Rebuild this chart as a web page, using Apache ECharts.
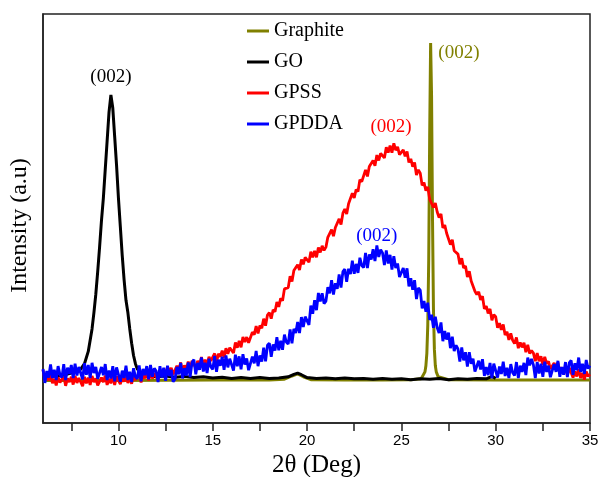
<!DOCTYPE html>
<html>
<head>
<meta charset="utf-8">
<script src="https://cdn.jsdelivr.net/npm/echarts@6/dist/echarts.min.js"></script>
<style>html,body{margin:0;padding:0;background:#fff}#chart{width:601px;height:477px}</style>
</head>
<body>
<div id="chart"></div>
<script>
// ---- data ----
const seriesNames = ['Graphite', 'GO', 'GPSS', 'GPDDA'];
const xTickLabels = [10, 15, 20, 25, 30, 35];
const xTickMarks = [7.5, 10, 12.5, 15, 17.5, 20, 22.5, 25, 27.5, 30, 32.5, 35];

const graphiteX = [6, 10, 15, 18, 18.8, 19.2, 19.5, 19.8, 20.2, 22, 24, 25.5, 26.05, 26.15, 26.25, 26.3, 26.35, 26.4, 26.45, 26.5, 26.55, 26.6, 26.65, 26.7, 26.75, 26.8, 26.85, 26.95, 27.05, 27.5, 30, 33, 35];
const graphiteY = [10.4, 10.4, 10.5, 10.5, 10.7, 11.5, 12.0, 11.3, 10.6, 10.5, 10.5, 10.6, 10.8, 11.2, 12.5, 14, 17, 24, 40, 70, 92.9, 80, 50, 28, 18, 14, 12.5, 11.3, 10.9, 10.6, 10.5, 10.5, 10.5];

const goX = [6.0, 7.0, 7.5, 8.0, 8.2, 8.4, 8.6, 8.7, 8.8, 8.9, 9.0, 9.1, 9.2, 9.3, 9.4, 9.5, 9.6, 9.7, 9.8, 9.9, 10.0, 10.1, 10.2, 10.3, 10.4, 10.5, 10.6, 10.7, 10.8, 10.9, 11.0, 11.2, 11.5, 12, 12.5, 13, 13.5, 14, 14.5, 15, 15.5, 16, 16.5, 17, 17.5, 18, 18.5, 19, 19.3, 19.5, 19.7, 20, 20.5, 21, 21.5, 22, 22.5, 23, 23.5, 24, 24.5, 25, 25.5, 26, 26.5, 27, 27.5, 28, 28.5, 29, 29.5, 29.8, 30.0];
const goY = [11.2, 11.6, 12.2, 13.2, 14.5, 17.5, 23, 27, 31.5, 37, 43, 49.5, 55, 62, 69, 76, 80.2, 77, 70, 63, 55, 48, 41, 35, 30, 27, 23, 19.5, 16.5, 14.5, 13.2, 12.2, 11.6, 11.3, 11.5, 11.2, 11.4, 11.1, 11.3, 11.0, 11.2, 10.9, 11.1, 10.9, 11.1, 10.9, 11.0, 11.3, 11.9, 12.2, 11.8, 11.1, 10.9, 11.0, 10.8, 11.0, 10.8, 10.9, 10.7, 10.9, 10.7, 10.8, 10.6, 10.8, 10.7, 10.9, 10.6, 10.8, 10.7, 10.9, 10.8, 11.4, 10.9];

// GPSS and GPDDA scans: 6.0 to 35.0 deg, every 0.1 deg
const scanStart = 6.0;
const scanStep = 0.1;
const gpssY = [
13.0, 10.5, 11.7, 10.4, 12.0, 9.7, 10.8, 9.2, 11.2, 9.9,
9.5, 11.4, 9.1, 10.9, 10.0, 11.3, 9.4, 11.5, 9.8, 11.0,
10.6, 9.0, 11.3, 9.7, 11.1, 9.3, 11.5, 10.0, 10.9, 9.2,
9.4, 11.1, 10.0, 11.6, 9.3, 10.8, 9.7, 11.5, 9.3, 11.4,
11.6, 9.5, 11.1, 10.1, 11.9, 9.8, 11.1, 9.6, 11.6, 10.5,
10.2, 12.1, 9.9, 11.7, 10.9, 12.3, 10.4, 12.6, 10.9, 12.2,
12.0, 10.5, 13.0, 11.6, 13.2, 11.5, 13.8, 12.5, 13.5, 11.9,
12.2, 14.0, 13.0, 14.8, 12.6, 14.1, 13.1, 15.0, 13.0, 15.2,
15.4, 13.4, 15.2, 14.2, 16.1, 14.2, 15.5, 14.1, 16.2, 15.2,
14.9, 17.0, 14.9, 16.9, 16.2, 17.7, 16.0, 18.3, 16.9, 18.4,
18.4, 17.1, 19.7, 18.4, 20.1, 18.5, 21.0, 19.8, 21.0, 19.6,
20.0, 22.2, 21.6, 23.7, 21.9, 23.8, 23.2, 25.5, 23.8, 26.4,
27.0, 25.5, 27.7, 27.2, 29.6, 28.4, 30.5, 29.9, 32.8, 32.6,
33.1, 35.9, 34.6, 37.3, 36.9, 38.7, 37.4, 40.0, 38.8, 40.5,
40.7, 39.3, 41.9, 40.5, 42.1, 40.5, 42.9, 41.7, 43.3, 42.2,
43.0, 45.4, 45.0, 47.3, 45.7, 47.8, 47.4, 49.9, 48.5, 51.3,
52.3, 51.1, 53.6, 53.5, 56.2, 55.0, 57.1, 56.6, 59.5, 59.0,
59.3, 61.9, 60.3, 62.7, 62.3, 64.2, 62.9, 65.5, 64.2, 65.9,
66.0, 64.8, 67.4, 66.1, 67.8, 66.1, 68.4, 66.7, 67.5, 65.6,
65.5, 66.8, 65.2, 66.4, 63.7, 64.6, 62.7, 63.7, 60.6, 61.9,
61.1, 58.1, 58.8, 56.8, 57.7, 54.7, 55.0, 52.7, 53.8, 51.6,
50.2, 51.1, 47.7, 48.4, 46.4, 46.6, 43.6, 44.8, 42.1, 42.3,
41.3, 38.8, 40.3, 37.9, 38.4, 35.7, 37.1, 34.7, 34.8, 32.2,
31.4, 32.1, 30.1, 31.0, 27.9, 28.6, 26.8, 27.9, 25.1, 26.5,
26.0, 23.3, 24.4, 22.8, 24.1, 21.5, 22.3, 20.3, 21.9, 20.2,
19.4, 20.9, 18.3, 19.7, 18.5, 19.6, 17.3, 19.1, 17.0, 17.7,
17.1, 15.1, 17.1, 15.1, 16.3, 14.2, 16.2, 14.5, 15.1, 13.2,
13.1, 14.7, 13.4, 14.8, 12.4, 13.6, 12.3, 13.9, 11.6, 13.5,
13.4, 11.1, 12.6, 11.4, 13.2, 11.0, 12.2, 10.6, 12.6, 11.4,
11.9
];
const gpddaY = [
13.2, 9.8, 12.7, 11.1, 14.3, 11.0, 13.0, 10.5, 13.9, 11.8,
11.1, 14.4, 10.5, 13.5, 12.0, 14.2, 11.0, 14.5, 11.6, 13.7,
13.4, 10.7, 14.6, 11.8, 14.2, 11.0, 14.7, 12.2, 13.7, 10.8,
10.8, 13.7, 11.7, 14.4, 10.5, 12.8, 10.9, 13.9, 10.2, 13.6,
13.7, 10.1, 12.8, 11.0, 14.0, 10.5, 12.5, 10.0, 13.4, 11.3,
10.8, 14.1, 10.2, 13.2, 11.7, 13.9, 10.7, 14.2, 11.3, 13.4,
12.7, 10.0, 13.9, 11.1, 13.5, 10.3, 14.0, 11.5, 13.0, 10.1,
10.7, 13.7, 11.9, 14.7, 10.9, 13.4, 11.6, 14.8, 11.2, 14.8,
15.5, 11.9, 14.7, 13.0, 16.0, 12.6, 14.7, 12.2, 15.7, 13.7,
13.1, 16.4, 12.5, 15.5, 14.0, 16.2, 13.0, 16.5, 13.6, 15.7,
15.5, 12.8, 16.7, 13.9, 16.3, 13.1, 16.8, 14.3, 15.8, 12.9,
13.1, 16.2, 14.6, 17.6, 13.9, 16.5, 15.0, 18.4, 15.1, 19.0,
19.5, 16.2, 19.2, 17.7, 21.0, 17.8, 20.1, 17.9, 21.6, 19.8,
19.3, 22.9, 19.5, 23.0, 22.0, 24.7, 22.0, 25.9, 23.5, 26.0,
25.9, 24.0, 28.7, 26.7, 30.0, 27.6, 31.8, 29.7, 31.7, 29.2,
29.8, 33.2, 31.7, 34.9, 31.4, 34.2, 32.8, 36.3, 33.1, 37.0,
37.6, 34.5, 37.7, 36.4, 39.7, 36.5, 38.9, 36.7, 40.4, 38.5,
38.0, 41.6, 37.9, 41.2, 40.0, 42.5, 39.6, 43.4, 40.6, 42.4,
41.6, 38.6, 42.2, 39.0, 41.1, 37.5, 40.8, 37.9, 39.0, 35.7,
35.5, 37.9, 35.5, 37.8, 33.4, 35.4, 32.6, 34.9, 30.3, 33.0,
32.5, 28.0, 29.8, 27.2, 29.4, 25.2, 26.5, 23.3, 26.0, 23.3,
22.0, 24.6, 20.0, 22.5, 20.4, 22.1, 18.3, 21.1, 17.6, 19.0,
18.1, 15.0, 18.5, 15.3, 17.3, 13.8, 17.3, 14.5, 15.7, 12.6,
12.6, 15.2, 13.1, 15.6, 11.5, 13.7, 11.7, 14.7, 11.0, 14.5,
14.7, 11.1, 13.8, 12.0, 15.0, 11.5, 13.5, 11.0, 14.4, 12.3,
11.6, 14.9, 11.0, 14.0, 12.5, 14.7, 11.7, 16.0, 14.1, 15.7,
14.2, 11.0, 14.9, 12.1, 14.5, 11.3, 15.0, 12.5, 14.0, 11.2,
11.5, 14.4, 12.5, 15.2, 11.3, 13.7, 11.8, 14.9, 11.2, 14.7,
15.3, 11.8, 14.6, 12.9, 16.0, 12.5, 14.5, 12.0, 15.4, 13.3,
14.0
];

// peak annotations: label, position (2θ, intensity)
const peakLabels = ['(002)', '(002)', '(002)', '(002)'];
const peakAt = [[28.05, 90.5], [9.6, 84.6], [24.45, 72.4], [23.7, 45.7]];

const colors = ['#808000', '#000000', '#ff0000', '#0000ff'];
const widths = [3, 3, 2.8, 2.8];

// ---- build ----
function pair(xs, ys) { return ys.map((y, i) => [xs[i], y]); }
function scan(ys) { return ys.map((y, i) => [+(scanStart + i * scanStep).toFixed(2), y]); }
const datasets = [pair(graphiteX, graphiteY), pair(goX, goY), scan(gpssY), scan(gpddaY)];

const serif = 'Liberation Serif';
const sans = 'Liberation Sans';

const series = seriesNames.map((name, i) => ({
  name: name,
  type: 'line',
  data: datasets[i],
  showSymbol: false,
  symbol: 'none',
  color: colors[i],
  lineStyle: { color: colors[i], width: widths[i] },
  animation: false,
  markPoint: {
    symbol: 'circle',
    symbolSize: 0,
    animation: false,
    label: { show: true, position: 'inside', formatter: peakLabels[i], color: colors[i], fontFamily: serif, fontSize: 19 },
    data: [{ coord: peakAt[i] }]
  }
}));

const chart = echarts.init(document.getElementById('chart'), null, { renderer: 'canvas' });
chart.setOption({
  backgroundColor: '#fff',
  animation: false,
  grid: { left: 43, right: 11, top: 14, bottom: 54, outerBoundsMode: 'none', containLabel: false, show: true, borderColor: '#222', borderWidth: 1.5, backgroundColor: 'transparent' },
  legend: {
    data: seriesNames,
    orient: 'vertical',
    left: 242,
    top: 16,
    itemWidth: 22,
    itemHeight: 3,
    itemGap: 11,
    icon: 'rect',
    textStyle: { fontFamily: serif, fontSize: 20, color: '#000' }
  },
  xAxis: {
    type: 'value',
    min: 6,
    max: 35,
    name: '2θ (Deg)',
    nameLocation: 'middle',
    nameGap: 29,
    nameTextStyle: { fontFamily: serif, fontSize: 25, color: '#000' },
    axisLine: { show: true, onZero: false, lineStyle: { color: '#222', width: 1.5 } },
    axisTick: { show: true, inside: false, length: 8, customValues: xTickMarks, lineStyle: { color: '#222', width: 1.5 } },
    axisLabel: { show: true, customValues: xTickLabels, margin: 10, fontFamily: sans, fontSize: 15, color: '#000' },
    splitLine: { show: false }
  },
  yAxis: {
    type: 'value',
    min: 0,
    max: 100,
    name: 'Intensity (a.u)',
    nameLocation: 'middle',
    nameRotate: 90,
    nameGap: 11,
    nameTextStyle: { fontFamily: serif, fontSize: 24, color: '#000', padding: [0, 14, 0, 0] },
    axisLine: { show: true, onZero: false, lineStyle: { color: '#222', width: 1.5 } },
    axisTick: { show: false },
    axisLabel: { show: false },
    splitLine: { show: false }
  },
  series: series
});
</script>
</body>
</html>
